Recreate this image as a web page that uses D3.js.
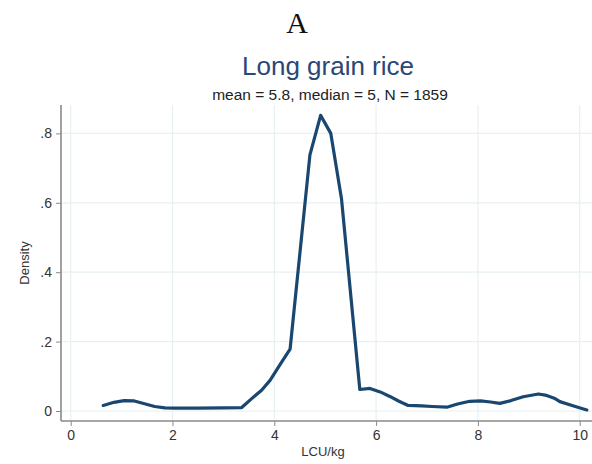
<!DOCTYPE html>
<html>
<head>
<meta charset="utf-8">
<script src="https://cdn.jsdelivr.net/npm/d3@7"></script>
<style>
  html, body { margin: 0; padding: 0; background: #fff; }
  svg { display: block; }
</style>
</head>
<body>
<svg id="chart" width="592" height="464"></svg>
<script>
// ---- data ----
const priceLCU = [0.64, 0.85, 1.05, 1.25, 1.45, 1.65, 1.85, 2.05, 2.5, 3.0, 3.36, 3.55, 3.75, 3.92, 4.15, 4.31, 4.70, 4.91, 5.11, 5.32, 5.68, 5.88, 6.08, 6.27, 6.45, 6.63, 6.9, 7.1, 7.39, 7.6, 7.84, 8.05, 8.25, 8.43, 8.65, 8.89, 9.19, 9.35, 9.5, 9.61, 9.85, 10.14];
const density  = [0.016, 0.025, 0.030, 0.029, 0.021, 0.013, 0.009, 0.008, 0.008, 0.009, 0.010, 0.035, 0.060, 0.089, 0.142, 0.178, 0.738, 0.852, 0.800, 0.612, 0.062, 0.065, 0.055, 0.042, 0.028, 0.016, 0.015, 0.013, 0.011, 0.020, 0.028, 0.029, 0.026, 0.022, 0.030, 0.041, 0.049, 0.045, 0.037, 0.027, 0.016, 0.003];
const xTicks = [0, 2, 4, 6, 8, 10];
const yTicks = [0, 0.2, 0.4, 0.6, 0.8];
const yTickLabels = ["0", ".2", ".4", ".6", ".8"];
const panelLabel = "A";
const titleText = "Long grain rice";
const subtitleText = "mean = 5.8, median = 5, N = 1859";
const xLabel = "LCU/kg";
const yLabel = "Density";

const svg = d3.select("#chart");
const plot = { left: 61, right: 592, top: 105, bottom: 421 };

const x = d3.scaleLinear().domain([0, 10]).range([70.7, 579.7]);
const y = d3.scaleLinear().domain([0, 0.8]).range([411, 133.4]);

const gridColor = "#e8f0f2";
const axisColor = "#8a8a8a";
const font = "'Liberation Sans', Arial, Helvetica, sans-serif";

// grid
svg.append("g").selectAll("line.vg").data(xTicks).join("line")
  .attr("x1", d => x(d)).attr("x2", d => x(d))
  .attr("y1", plot.top).attr("y2", plot.bottom)
  .attr("stroke", gridColor).attr("stroke-width", 1.2);
svg.append("g").selectAll("line.hg").data(yTicks).join("line")
  .attr("x1", plot.left).attr("x2", plot.right)
  .attr("y1", d => y(d)).attr("y2", d => y(d))
  .attr("stroke", gridColor).attr("stroke-width", 1.2);

// axes
const xAxis = d3.axisBottom(x).tickValues(xTicks).tickSize(5).tickPadding(4).tickFormat(d3.format("d"));
const gx = svg.append("g").attr("transform", `translate(0,${plot.bottom})`).call(xAxis);
gx.select(".domain").remove();
gx.append("line").attr("x1", plot.left).attr("x2", plot.right).attr("y1", 0).attr("y2", 0)
  .attr("stroke", axisColor).attr("stroke-width", 1.6);
gx.selectAll(".tick line").attr("stroke", axisColor).attr("stroke-width", 1);
gx.selectAll(".tick text").attr("fill", "#333").style("font-family", font).style("font-size", "14px");

const yAxis = d3.axisLeft(y).tickValues(yTicks).tickSize(5).tickPadding(4)
  .tickFormat((d, i) => yTickLabels[i]);
const gy = svg.append("g").attr("transform", `translate(${plot.left},0)`).call(yAxis);
gy.select(".domain").remove();
gy.append("line").attr("x1", 0).attr("x2", 0).attr("y1", plot.top).attr("y2", plot.bottom)
  .attr("stroke", axisColor).attr("stroke-width", 1.6);
gy.selectAll(".tick line").attr("stroke", axisColor).attr("stroke-width", 1);
gy.selectAll(".tick text").attr("fill", "#333").style("font-family", font).style("font-size", "14px");

// density line
const pts = priceLCU.map((v, i) => [v, density[i]]);
svg.append("path").datum(pts)
  .attr("fill", "none").attr("stroke", "#1a476f").attr("stroke-width", 3.2)
  .attr("stroke-linejoin", "round").attr("stroke-linecap", "round")
  .attr("d", d3.line().x(d => x(d[0])).y(d => y(d[1])));

// texts
svg.append("text").attr("x", 297).attr("y", 33).attr("text-anchor", "middle")
  .style("font-family", "'Liberation Serif', 'Times New Roman', serif").style("font-size", "30px")
  .attr("fill", "#111").text(panelLabel);
svg.append("text").attr("x", 328).attr("y", 75).attr("text-anchor", "middle")
  .style("font-family", font).style("font-size", "26px")
  .attr("fill", "#2b4778").text(titleText);
svg.append("text").attr("x", 330).attr("y", 100).attr("text-anchor", "middle")
  .style("font-family", font).style("font-size", "15.5px")
  .attr("fill", "#222").text(subtitleText);
svg.append("text").attr("x", 323).attr("y", 456).attr("text-anchor", "middle")
  .style("font-family", font).style("font-size", "13px")
  .attr("fill", "#333").text(xLabel);
svg.append("text").attr("transform", "translate(29,263) rotate(-90)").attr("text-anchor", "middle")
  .style("font-family", font).style("font-size", "13px")
  .attr("fill", "#333").text(yLabel);
</script>
</body>
</html>
